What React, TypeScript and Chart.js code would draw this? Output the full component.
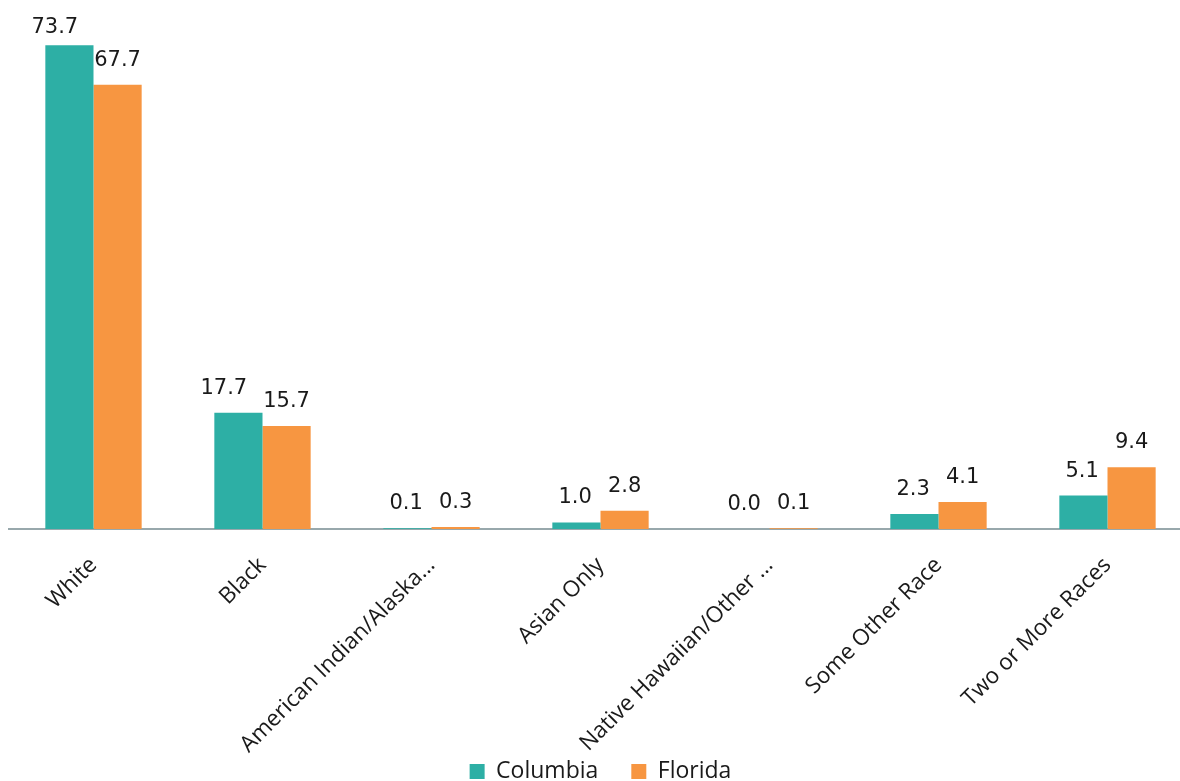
import React, { useEffect, useRef } from "react";
import { Chart, registerables } from "chart.js";

Chart.register(...registerables);

const categories = [
  "White",
  "Black",
  "American Indian/Alaska...",
  "Asian Only",
  "Native Hawaiian/Other ...",
  "Some Other Race",
  "Two or More Races",
];
const columbiaValues = [73.7, 17.7, 0.1, 1.0, 0.0, 2.3, 5.1];
const floridaValues = [67.7, 15.7, 0.3, 2.8, 0.1, 4.1, 9.4];
const seriesNames = ["Columbia", "Florida"];
const seriesColors = ["#2DAFA5", "#F79641"];

const valueLabelPlugin = {
  id: "valueLabels",
  afterDatasetsDraw(chart: any) {
    const ctx = chart.ctx;
    ctx.save();
    ctx.font = "21px 'DejaVu Sans'";
    ctx.fillStyle = "#1a1a1a";
    ctx.textAlign = "center";
    ctx.textBaseline = "alphabetic";
    const gap = 19;
    const minBaseline = chart.chartArea.top + 29;
    const metaA = chart.getDatasetMeta(0);
    const metaB = chart.getDatasetMeta(1);
    const dsA = chart.data.datasets[0].data;
    const dsB = chart.data.datasets[1].data;
    metaA.data.forEach((barA: any, j: number) => {
      const barB = metaB.data[j];
      const tA = Number(dsA[j]).toFixed(1);
      const tB = Number(dsB[j]).toFixed(1);
      const wA = ctx.measureText(tA).width;
      const wB = ctx.measureText(tB).width;
      const xB = barB.x;
      let xA = barA.x;
      const maxRightA = xB - wB / 2 - 16;
      if (xA + wA / 2 > maxRightA) xA = maxRightA - wA / 2;
      const yA = Math.max(barA.y - gap, minBaseline);
      const yB = Math.max(barB.y - gap, minBaseline);
      ctx.fillText(tA, xA, yA);
      ctx.fillText(tB, xB, yB);
    });
    ctx.restore();
  },
};

const noLabelClipPlugin = {
  id: "noLabelClip",
  afterLayout(chart: any) {
    const s = chart.scales.x;
    if (s) s._computeLabelArea = () => undefined;
  },
};

export default function App() {
  const ref = useRef<HTMLCanvasElement>(null);
  useEffect(() => {
    if (!ref.current) return;
    const chart = new Chart(ref.current, {
      type: "bar",
      data: {
        labels: categories,
        datasets: [
          {
            label: seriesNames[0],
            data: columbiaValues,
            backgroundColor: seriesColors[0],
            categoryPercentage: 0.57,
            barPercentage: 1.0,
          },
          {
            label: seriesNames[1],
            data: floridaValues,
            backgroundColor: seriesColors[1],
            categoryPercentage: 0.57,
            barPercentage: 1.0,
          },
        ],
      },
      options: {
        animation: false,
        responsive: false,
        maintainAspectRatio: false,
        layout: { padding: { top: 4, left: 9, right: 0, bottom: -12 } },
        plugins: {
          tooltip: { enabled: false },
          legend: {
            position: "bottom",
            labels: {
              font: { family: "'Open Sans'", size: 23 },
              color: "#1a1a1a",
              boxWidth: 15,
              boxHeight: 15,
              padding: 33,
            },
          },
        },
        scales: {
          x: {
            grid: { display: false },
            border: { display: true, color: "#98A8AC", width: 2 },
            ticks: {
              font: { family: "'Open Sans'", size: 22.5 },
              color: "#1a1a1a",
              maxRotation: 45,
              minRotation: 45,
              autoSkip: false,
              padding: 15,
            },
            afterFit: (scale: any) => {
              scale.height = 198;
            },
          },
          y: {
            display: false,
            min: 0,
            max: 80,
          },
        },
      },
      plugins: [valueLabelPlugin, noLabelClipPlugin],
    });
    return () => chart.destroy();
  }, []);
  return (
    <div style={{ position: "fixed", left: 0, top: 0, width: 1180, height: 781, overflow: "hidden", background: "#fff" }}>
      <canvas ref={ref} width={1192} height={781} style={{ display: "block" }} />
    </div>
  );
}
